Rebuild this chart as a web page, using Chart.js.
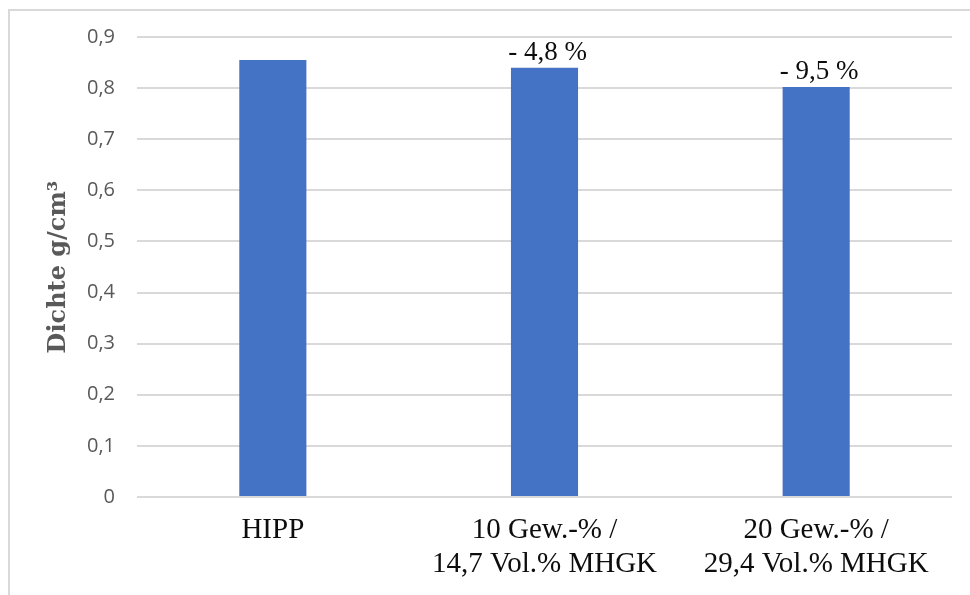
<!DOCTYPE html>
<html>
<head>
<meta charset="utf-8">
<script src="https://cdn.jsdelivr.net/npm/chart.js@4/dist/chart.umd.min.js"></script>
<style>
  html, body { margin: 0; padding: 0; background: #ffffff; }
  #wrap { position: relative; width: 970px; height: 595px; overflow: hidden; }
  #frame { position: absolute; left: 8px; top: 9px; width: 980px; height: 600px;
           border-left: 2px solid #d9d9d9; border-top: 2px solid #d9d9d9; }
  canvas { position: absolute; left: 0; top: 0; }
</style>
</head>
<body>
<div id="wrap">
  <div id="frame"></div>
  <canvas id="chart" width="970" height="595"></canvas>
</div>
<script>
// Materials: neat polypropylene and two filled compounds
const categories = [
  ['HIPP'],
  ['10 Gew.-% /', '14,7 Vol.% MHGK'],
  ['20 Gew.-% /', '29,4 Vol.% MHGK']
];
// Density in g/cm³
const density = [0.855, 0.840, 0.802];
// Change relative to HIPP, printed above the bars
const changeLabels = ['', '- 4,8 %', '- 9,5 %'];
// Value axis
const yMin = 0;
const yMax = 0.9;
const yStep = 0.1;

const changeLabelPlugin = {
  id: 'changeLabels',
  afterDatasetsDraw(chart) {
    const ctx = chart.ctx;
    const meta = chart.getDatasetMeta(0);
    ctx.save();
    ctx.font = '27px "Liberation Serif", serif';
    ctx.fillStyle = '#0d0d0d';
    ctx.textAlign = 'center';
    ctx.textBaseline = 'alphabetic';
    meta.data.forEach((bar, i) => {
      const txt = changeLabels[i];
      if (txt) ctx.fillText(txt, bar.x + 3, bar.y - 8);
    });
    ctx.restore();
  }
};

new Chart(document.getElementById('chart'), {
  type: 'bar',
  data: {
    labels: categories,
    datasets: [{
      data: density,
      backgroundColor: '#4472c4',
      borderWidth: 0,
      barPercentage: 0.247,
      categoryPercentage: 1.0
    }]
  },
  options: {
    responsive: false,
    animation: false,
    devicePixelRatio: 1,
    layout: { padding: { top: 37, right: 18, bottom: 0, left: 0 } },
    plugins: {
      legend: { display: false },
      tooltip: { enabled: false }
    },
    scales: {
      x: {
        grid: { display: false, drawTicks: false },
        border: { display: false },
        ticks: {
          color: '#0d0d0d',
          font: { family: '"Liberation Serif", serif', size: 29, lineHeight: 1.17 },
          padding: 16,
          maxRotation: 0,
          autoSkip: false
        },
        afterFit(scale) { scale.height = 98; }
      },
      y: {
        min: yMin,
        max: yMax,
        grid: { color: '#d9d9d9', lineWidth: 2, drawTicks: false },
        border: { display: false },
        ticks: {
          stepSize: yStep,
          color: '#595959',
          font: { family: '"Open Sans", sans-serif', size: 20 },
          padding: 22,
          callback: (v) => (v === 0 ? '0' : Number(v).toFixed(1).replace('.', ','))
        },
        title: {
          display: true,
          text: 'Dichte g/cm³',
          color: '#595959',
          font: { family: '"DejaVu Serif", serif', size: 24, weight: 'bold' },
          padding: { top: 44, bottom: 0 }
        },
        afterFit(scale) { scale.width = 137; }
      }
    }
  },
  plugins: [changeLabelPlugin]
});
</script>
</body>
</html>
